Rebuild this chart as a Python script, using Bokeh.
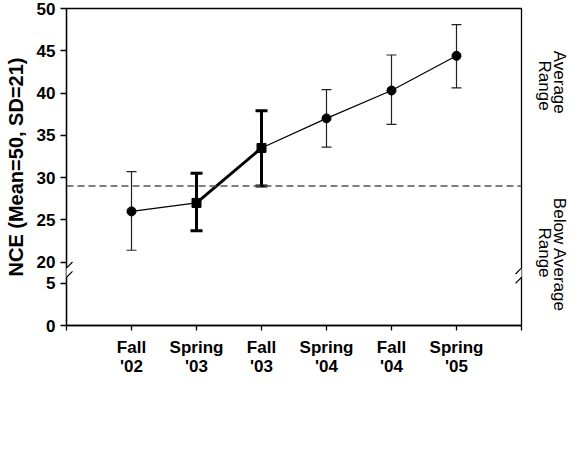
import math
from bokeh.plotting import figure
from bokeh.models import (ColumnDataSource, FixedTicker, Whisker, TeeHead, Span,
                          LinearAxis, Arrow, Legend, LegendItem)
from bokeh.embed import file_html
from bokeh.resources import INLINE

# ---------------- data ----------------
periods = ["Fall\n'02", "Spring\n'03", "Fall\n'03", "Spring\n'04", "Fall\n'04", "Spring\n'05"]
nce_mean = [26.0, 27.0, 33.5, 37.0, 40.3, 44.4]
nce_upper = [30.7, 30.5, 37.9, 40.4, 44.5, 48.1]
nce_lower = [21.4, 23.7, 29.0, 33.6, 36.3, 40.6]
ffw_use = [False, True, True, False, False, False]
below_average_cutoff = 29
y_tick_values = [0, 5, 20, 25, 30, 35, 40, 45, 50]
y_axis_title = "NCE (Mean=50, SD=21)"
legend_label = "Fast ForWord Use"
range_outer = ["Average", "Below Average"]
range_outer_pos = [45.0, 27.6]      # where each rotated text begins
range_inner = ["Range", "Range"]
range_inner_pos = [43.85, 24.1]

# broken axis: values below the break are drawn shifted up
BREAK_SHIFT = 12.5
def axis_pos(v):
    return v if v >= 20 else v + BREAK_SHIFT

xs = list(range(1, len(periods) + 1))
FONT = "Liberation Sans"

p = figure(width=575, height=442, frame_width=455, frame_height=317,
           x_range=(0, 7), y_range=(BREAK_SHIFT, 50),
           output_backend="svg", toolbar_location=None, title=None,
           min_border_left=66, min_border_right=54, min_border_top=8, min_border_bottom=117)
p.xgrid.visible = False
p.ygrid.visible = False
p.outline_line_color = "black"
p.outline_line_width = 1.3
p.background_fill_color = "white"
p.border_fill_color = "white"

# x axis
p.xaxis.ticker = FixedTicker(ticks=list(range(0, 8)), minor_ticks=[])
overrides = {0: "", 7: ""}
for x, lab in zip(xs, periods):
    overrides[x] = lab
p.xaxis.major_label_overrides = overrides
p.xaxis.major_tick_out = 5
p.xaxis.major_tick_in = 0
p.xaxis.axis_line_width = 1.3
p.xaxis.major_tick_line_width = 1.3
p.xaxis.major_label_standoff = 7
p.xaxis.major_label_text_font = FONT
p.xaxis.major_label_text_font_style = "bold"
p.xaxis.major_label_text_font_size = "17px"
p.xaxis.major_label_text_color = "black"
p.xaxis.major_label_text_line_height = 1.05

# y axis
yt = [axis_pos(v) for v in y_tick_values]
p.yaxis.ticker = FixedTicker(ticks=yt, minor_ticks=[])
p.yaxis.major_label_overrides = {axis_pos(v): str(v) for v in y_tick_values}
p.yaxis.major_tick_out = 6
p.yaxis.major_tick_in = 0
p.yaxis.axis_line_width = 1.3
p.yaxis.major_tick_line_width = 1.3
p.yaxis.major_label_standoff = 5
p.yaxis.major_label_text_font = FONT
p.yaxis.major_label_text_font_style = "bold"
p.yaxis.major_label_text_font_size = "17px"
p.yaxis.major_label_text_color = "black"
p.yaxis.axis_label = y_axis_title
p.yaxis.axis_label_text_font = FONT
p.yaxis.axis_label_text_font_style = "bold"
p.yaxis.axis_label_text_font_size = "20px"
p.yaxis.axis_label_text_color = "black"
p.yaxis.axis_label_standoff = 7

# right axes carrying the range descriptions (inner line, outer line)
def range_axis(labels, positions, standoff):
    return LinearAxis(ticker=FixedTicker(ticks=positions, minor_ticks=[]),
                      major_label_overrides={pos: lab for pos, lab in zip(positions, labels)},
                      major_label_orientation=-math.pi / 2, major_tick_out=0, major_tick_in=0,
                      major_label_standoff=standoff, axis_line_color=None,
                      major_label_text_font=FONT, major_label_text_font_size="17px",
                      major_label_text_color="black")
p.add_layout(range_axis(range_inner, range_inner_pos, 23), "right")
p.add_layout(range_axis(range_outer, range_outer_pos, -7), "right")

# reference line
p.add_layout(Span(location=below_average_cutoff, dimension="width", line_color="#555555",
                  line_dash="7 4", line_width=1.3))

# data sources
src_all = ColumnDataSource(dict(x=xs, y=nce_mean))
idx_use = [i for i, u in enumerate(ffw_use) if u]
idx_off = [i for i, u in enumerate(ffw_use) if not u]
src_use = ColumnDataSource(dict(x=[xs[i] for i in idx_use], y=[nce_mean[i] for i in idx_use],
                                upper=[nce_upper[i] for i in idx_use], lower=[nce_lower[i] for i in idx_use]))
src_off = ColumnDataSource(dict(x=[xs[i] for i in idx_off], y=[nce_mean[i] for i in idx_off],
                                upper=[nce_upper[i] for i in idx_off], lower=[nce_lower[i] for i in idx_off]))

# error bars
p.add_layout(Whisker(source=src_off, base="x", upper="upper", lower="lower",
                     line_color="#222222", line_width=1.2,
                     upper_head=TeeHead(size=10, line_width=1.2, line_color="#222222"),
                     lower_head=TeeHead(size=10, line_width=1.2, line_color="#222222")))
p.add_layout(Whisker(source=src_use, base="x", upper="upper", lower="lower",
                     line_color="black", line_width=3,
                     upper_head=TeeHead(size=12, line_width=3, line_color="black"),
                     lower_head=TeeHead(size=12, line_width=3, line_color="black")))

p.line("x", "y", source=src_all, line_color="black", line_width=1.2)
thick = p.line("x", "y", source=src_use, line_color="black", line_width=3)
p.scatter("x", "y", source=src_off, marker="circle", size=9, color="black")
sq = p.scatter("x", "y", source=src_use, marker="square", size=9, color="black")

# axis break marks (white gap + two slashes on each vertical axis)
for xa in (0, 7):
    p.add_layout(Arrow(x_start=xa, y_start=18.25, x_end=xa, y_end=19.3, end=None,
                       line_color="white", line_width=5, level="overlay"))
    for yc in (18.2, 19.3):
        p.add_layout(Arrow(x_start=xa - 0.092, y_start=yc - 0.71, x_end=xa + 0.092, y_end=yc + 0.71,
                           end=None, line_color="black", line_width=1.2, level="overlay"))

legend = Legend(items=[LegendItem(label=legend_label, renderers=[thick, sq])],
                location="bottom_left", orientation="horizontal", glyph_width=41, glyph_height=20,
                label_text_font=FONT, label_text_font_style="bold", label_text_font_size="17px",
                border_line_alpha=0, background_fill_alpha=0, padding=0, margin=4, label_standoff=9)
p.add_layout(legend, "below")

open("out.html", "w").write(file_html(p, INLINE))
